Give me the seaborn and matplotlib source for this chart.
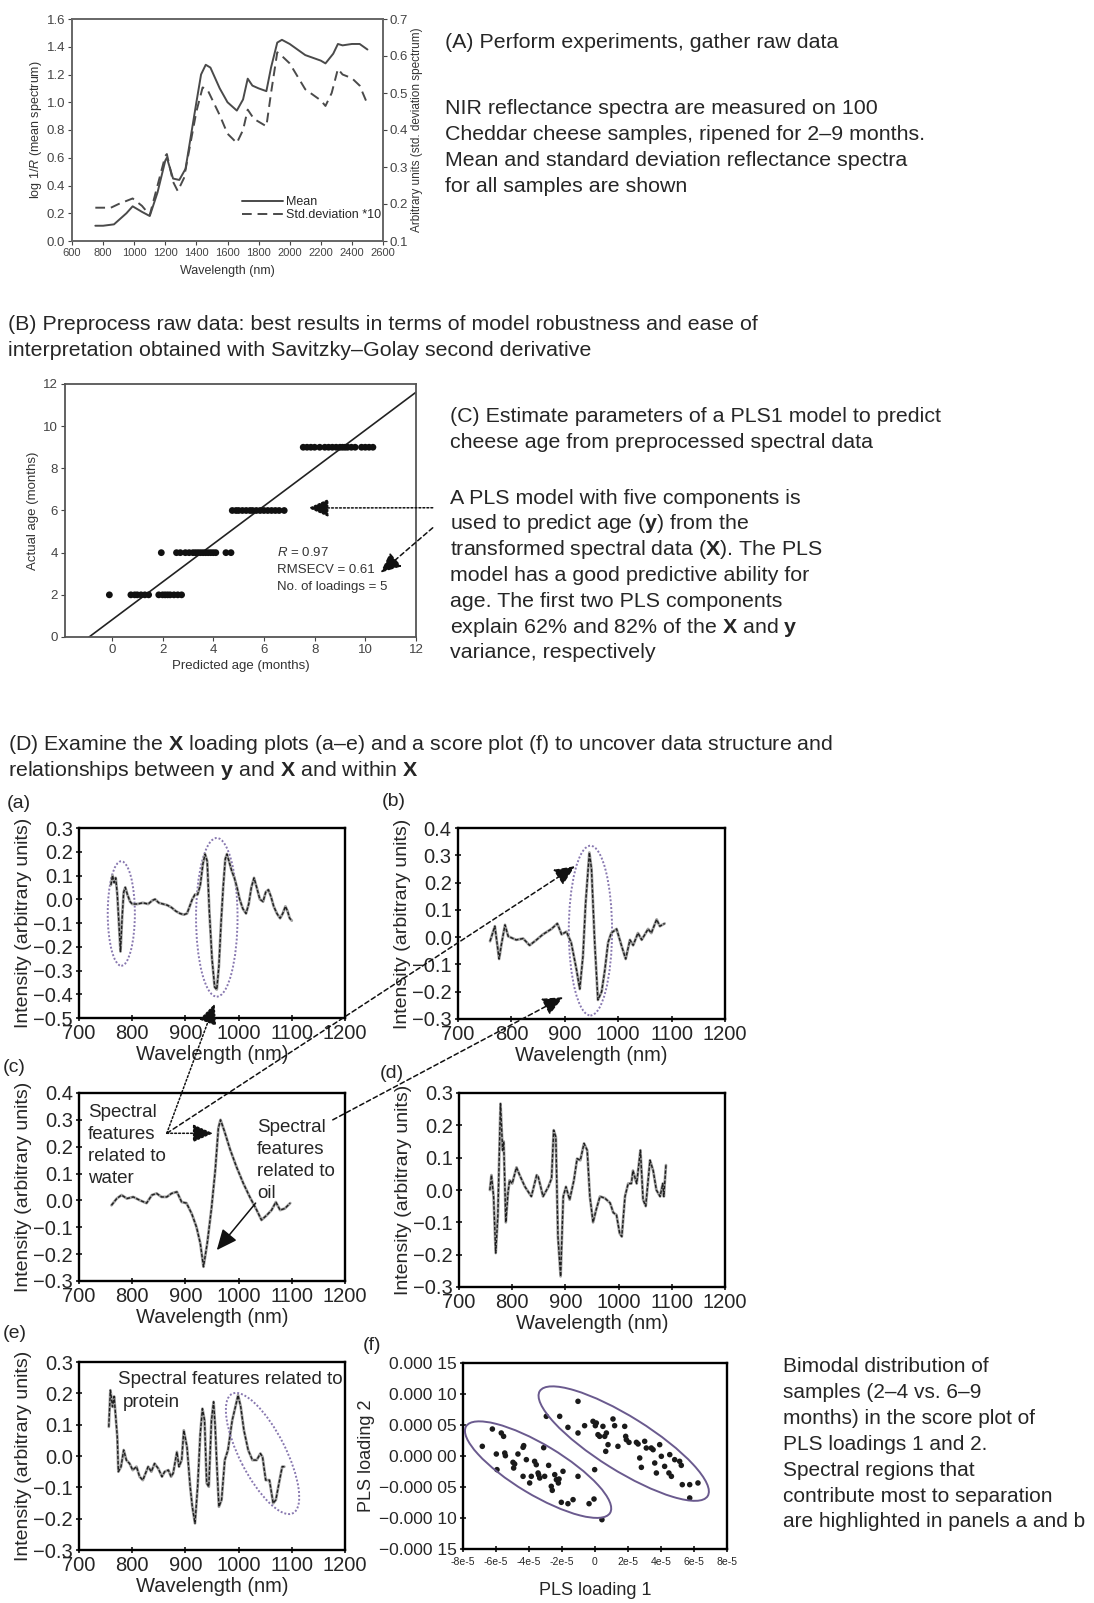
import numpy as np
import pandas as pd
import matplotlib
matplotlib.use("Agg")
import matplotlib.pyplot as plt
import seaborn as sns
from matplotlib.patches import Ellipse, ConnectionPatch
from matplotlib.transforms import IdentityTransform

# -----------------------------
# Data
# -----------------------------
# (A) mean spectrum (left axis) and std. deviation * 10 (right axis)
wl_mean = [750, 800, 870, 950, 990, 1050, 1100, 1150, 1200, 1210, 1250, 1290, 1330, 1400, 1430, 1460,
           1490, 1550, 1600, 1660, 1700, 1730, 1760, 1800, 1850, 1880, 1920, 1950, 2000, 2100, 2150,
           2200, 2230, 2280, 2310, 2340, 2400, 2450, 2500]
mean_spec = [0.11, 0.11, 0.12, 0.20, 0.25, 0.21, 0.18, 0.35, 0.58, 0.60, 0.45, 0.44, 0.52, 1.00, 1.20,
             1.27, 1.25, 1.10, 1.00, 0.94, 1.02, 1.17, 1.12, 1.10, 1.08, 1.25, 1.43, 1.45, 1.42, 1.34,
             1.32, 1.30, 1.28, 1.35, 1.42, 1.41, 1.42, 1.42, 1.38]
wl_std = [750, 850, 900, 990, 1050, 1100, 1150, 1200, 1210, 1250, 1280, 1320, 1400, 1440, 1470, 1550,
          1600, 1660, 1700, 1730, 1770, 1850, 1880, 1920, 1950, 2000, 2100, 2150, 2200, 2230, 2270,
          2310, 2340, 2400, 2450, 2500]
std_spec = [0.19, 0.19, 0.20, 0.215, 0.195, 0.17, 0.25, 0.33, 0.335, 0.26, 0.235, 0.27, 0.45, 0.515,
            0.51, 0.44, 0.39, 0.365, 0.40, 0.455, 0.43, 0.41, 0.50, 0.61, 0.60, 0.58, 0.51, 0.495,
            0.48, 0.465, 0.50, 0.565, 0.55, 0.54, 0.52, 0.47]

# (C) predicted vs actual age
pred_age2 = [-0.1, 0.75, 0.9, 1.0, 1.15, 1.3, 1.45, 1.85, 2.0, 2.1, 2.2, 2.3, 2.45, 2.6, 2.75]
pred_age4 = [1.95, 2.55, 2.7, 2.9, 3.05, 3.2, 3.3, 3.4, 3.5, 3.6, 3.7, 3.8, 3.9, 4.0, 4.1, 4.5, 4.7]
pred_age6 = [4.75, 4.9, 5.0, 5.15, 5.3, 5.45, 5.55, 5.7, 5.85, 6.0, 6.15, 6.3, 6.45, 6.6, 6.8]
pred_age9 = [7.55, 7.7, 7.85, 8.0, 8.2, 8.4, 8.55, 8.7, 8.85, 9.0, 9.1, 9.2, 9.3, 9.45, 9.6, 9.85,
             10.0, 10.15, 10.3]
actual_ages = [2, 4, 6, 9]
fit_slope, fit_intercept = 0.9, 0.81
fit_range = [-0.9, 12.0]

# (D a-e) X loadings
wl_a = [760, 763, 766, 769, 772, 775, 778, 781, 784, 787, 791, 796, 800, 810, 820, 830, 838, 843, 850,
        858, 866, 874, 882, 890, 897, 903, 908, 913, 918, 923, 928, 933, 937, 941, 945, 950, 955, 959,
        963, 967, 971, 975, 978, 982, 987, 992, 997, 1002, 1008, 1014, 1019, 1024, 1029, 1034, 1040,
        1046, 1051, 1056, 1061, 1066, 1072, 1078, 1083, 1088, 1092, 1096, 1100]
load_a = [0.06, 0.10, 0.07, 0.09, 0.02, -0.10, -0.22, -0.08, 0.03, 0.05, 0.02, -0.01, -0.02, -0.02,
          -0.015, -0.02, -0.005, 0.0, -0.015, -0.02, -0.025, -0.035, -0.05, -0.06, -0.065, -0.06,
          -0.03, 0.0, 0.02, 0.02, 0.06, 0.15, 0.19, 0.16, -0.05, -0.25, -0.37, -0.38, -0.28, -0.10,
          0.05, 0.17, 0.19, 0.16, 0.12, 0.09, 0.05, 0.0, -0.04, -0.06, -0.02, 0.05, 0.09, 0.05, 0.0,
          -0.01, 0.03, 0.04, 0.01, -0.03, -0.06, -0.08, -0.06, -0.03, -0.05, -0.08, -0.09]
wl_b = [760, 769, 777, 781, 788, 794, 809, 822, 834, 847, 859, 875, 886, 894, 903, 912, 922, 928, 934,
        939, 946, 950, 956, 962, 969, 975, 981, 987, 997, 1006, 1014, 1022, 1028, 1037, 1044, 1056,
        1062, 1072, 1078, 1087]
load_b = [-0.015, 0.04, -0.08, -0.03, 0.045, 0.003, -0.01, -0.005, -0.03, -0.01, 0.01, 0.03, 0.05,
          0.01, 0.02, -0.02, -0.12, -0.19, -0.07, 0.125, 0.31, 0.25, -0.02, -0.23, -0.20, -0.12,
          -0.02, 0.015, 0.03, -0.03, -0.08, -0.01, -0.03, 0.015, -0.01, 0.03, 0.015, 0.065, 0.04, 0.05]
wl_c = [761, 771, 780, 790, 802, 815, 827, 837, 846, 855, 865, 874, 884, 893, 902, 912, 921, 928, 934,
        941, 949, 956, 962, 966, 973, 984, 996, 1009, 1021, 1034, 1043, 1053, 1062, 1070, 1078, 1087,
        1097]
load_c = [-0.018, 0.007, 0.02, 0.007, 0.013, 0.0, -0.01, 0.02, 0.026, 0.013, 0.013, 0.026, 0.032,
          -0.006, -0.01, -0.05, -0.10, -0.16, -0.247, -0.16, -0.03, 0.11, 0.27, 0.30, 0.26, 0.19,
          0.125, 0.063, 0.013, -0.036, -0.073, -0.055, -0.036, -0.006, -0.036, -0.03, -0.01]
wl_d = [758, 761, 765, 769, 773, 778, 782, 784, 788, 792, 795, 800, 808, 814, 824, 836, 846, 849, 858,
        868, 874, 878, 882, 886, 891, 896, 901, 908, 916, 922, 928, 935, 941, 946, 952, 958, 965, 974,
        984, 990, 996, 1002, 1006, 1012, 1018, 1024, 1027, 1034, 1041, 1046, 1051, 1059, 1065, 1071,
        1078, 1083, 1085, 1089]
load_d = [0.0, 0.046, -0.02, -0.195, -0.08, 0.267, 0.123, 0.15, -0.10, -0.01, 0.03, 0.02, 0.07, 0.046,
          0.01, -0.02, 0.046, 0.04, -0.02, 0.01, 0.036, 0.185, 0.164, -0.144, -0.267, -0.02, 0.01,
          -0.03, 0.03, 0.097, 0.092, 0.144, 0.123, -0.02, -0.10, -0.06, -0.02, -0.025, -0.04, -0.07,
          -0.077, -0.134, -0.144, -0.02, 0.02, 0.02, 0.06, 0.02, 0.123, -0.03, -0.05, 0.092, 0.06,
          0.0, -0.02, 0.02, -0.02, 0.077]
wl_e = [756, 759, 763, 766, 772, 774, 779, 784, 789, 795, 801, 808, 814, 820, 830, 836, 842, 849, 856,
        861, 868, 873, 877, 884, 888, 893, 897, 903, 909, 913, 918, 923, 928, 932, 936, 940, 944, 949,
        953, 956, 959, 963, 968, 974, 980, 988, 994, 999, 1004, 1010, 1018, 1026, 1034, 1041, 1045,
        1051, 1058, 1065, 1070, 1077, 1082, 1086]
load_e = [0.093, 0.21, 0.157, 0.19, 0.061, -0.05, -0.034, 0.019, -0.013, -0.024, -0.045, -0.034,
          -0.066, -0.077, -0.034, -0.05, -0.024, -0.04, -0.066, -0.05, -0.045, -0.066, -0.055, 0.013,
          -0.034, -0.013, 0.082, 0.029, -0.098, -0.162, -0.215, -0.098, 0.072, 0.151, 0.114, -0.087,
          -0.098, 0.114, 0.173, 0.093, -0.024, -0.162, -0.140, -0.013, 0.019, 0.114, 0.157, 0.194,
          0.157, 0.082, 0.019, -0.013, -0.013, 0.008, -0.003, -0.077, -0.077, -0.151, -0.140, -0.077,
          -0.034, -0.034]

# (f) PLS scores, in units of 1e-5
score_unit = 1e-5
young_pls1 = [-6.83, -6.22, -5.98, -5.94, -5.68, -5.54, -5.47, -5.43, -4.97, -4.93, -4.87, -4.67, -4.36,
              -4.32, -4.36, -4.16, -3.96, -3.86, -3.66, -3.56, -3.45, -3.41, -3.35, -3.11, -3.05, -2.81,
              -2.65, -2.59, -2.44, -2.34, -2.22, -2.18, -2.04, -1.94, -1.64, -1.33, -1.03, -0.36, -0.06,
              -0.02, 0.42]
young_pls2 = [1.56, 4.35, 0.32, -2.2, 3.71, 3.17, 0.48, 0.05, -1.02, -1.94, -1.29, 0.32, 1.40, 1.67,
              -3.28, -0.59, -4.35, -3.28, -0.86, -1.40, -2.74, -3.06, -3.55, 1.34, -3.28, -1.51, -4.89,
              -5.54, -3.01, -3.82, -4.35, -3.71, -7.47, -2.47, -7.69, -7.04, -3.28, -7.69, -6.94, -2.20,
              -10.27]
old_pls1 = [-2.95, -2.14, -1.64, -1.03, -1.03, -0.63, -0.12, 0.02, 0.08, 0.18, 0.28, 0.48, 0.59, 0.65,
            0.69, 0.79, 1.09, 1.19, 1.39, 1.80, 1.86, 1.90, 2.06, 2.51, 2.61, 2.71, 2.81, 3.01, 3.11,
            3.41, 3.52, 3.62, 3.72, 3.92, 4.02, 4.22, 4.48, 4.53, 4.63, 4.83, 5.13, 5.23, 5.29, 5.74,
            6.24, 5.74]
old_pls2 = [6.40, 6.40, 4.62, 8.82, 3.71, 4.89, 5.59, 4.89, 5.32, 3.44, 3.17, 4.78, 3.17, 0.75, 3.71,
            1.83, 5.97, 4.89, 1.56, 4.78, 3.17, 2.63, 2.20, 2.20, 1.94, -0.32, -1.83, 2.37, 1.29, 1.29,
            1.02, -1.13, -2.74, 1.83, -0.05, -1.67, -2.74, 0.22, -3.28, -0.59, -0.86, -1.51, -4.62,
            -4.62, -4.35, -6.77]

# tick labels
wl_ticks = [700, 800, 900, 1000, 1100, 1200]
f_xticks = [-8, -6, -4, -2, 0, 2, 4, 6, 8]
f_xtick_labels = ["-8e-5", "-6e-5", "-4e-5", "-2e-5", "0", "2e-5", "4e-5", "6e-5", "8e-5"]
f_yticks = [-15, -10, -5, 0, 5, 10, 15]
f_ytick_labels = ["\u22120.000 15", "\u22120.000 10", "\u22120.000 05", "0.000 00",
                  "0.000 05", "0.000 10", "0.000 15"]

# texts
A_title = "(A) Perform experiments, gather raw data"
A_body = ["NIR reflectance spectra are measured on 100",
          "Cheddar cheese samples, ripened for 2\u20139 months.",
          "Mean and standard deviation reflectance spectra",
          "for all samples are shown"]
B_lines = ["(B) Preprocess raw data: best results in terms of model robustness and ease of",
           "interpretation obtained with Savitzky\u2013Golay second derivative"]
C_title = ["(C) Estimate parameters of a PLS1 model to predict",
           "cheese age from preprocessed spectral data"]
C_body = ["A PLS model with five components is",
          r"used to predict age ($\mathbf{y}$) from the",
          r"transformed spectral data ($\mathbf{X}$). The PLS",
          "model has a good predictive ability for",
          "age. The first two PLS components",
          r"explain 62% and 82% of the $\mathbf{X}$ and $\mathbf{y}$",
          "variance, respectively"]
D_lines = [r"(D) Examine the $\mathbf{X}$ loading plots (a" + "\u2013"
           + "e) and a score plot (f) to uncover data structure and",
           r"relationships between $\mathbf{y}$ and $\mathbf{X}$ and within $\mathbf{X}$"]
F_body = ["Bimodal distribution of", "samples (2\u20134 vs. 6\u20139",
          "months) in the score plot of", "PLS loadings 1 and 2.",
          "Spectral regions that", "contribute most to separation",
          "are highlighted in panels a and b"]
water_lines = ["Spectral", "features", "related to", "water"]
oil_lines = ["Spectral", "features", "related to", "oil"]
C_stats = [r"$\mathit{R}$ = 0.97", "RMSECV = 0.61", "No. of loadings = 5"]

# -----------------------------
# Style
# -----------------------------
sns.set_style("ticks")
plt.rcParams["font.family"] = ["Liberation Sans", "DejaVu Sans"]
plt.rcParams["mathtext.fontset"] = "custom"
plt.rcParams["mathtext.rm"] = "Liberation Sans"
plt.rcParams["mathtext.it"] = "Liberation Sans:italic"
plt.rcParams["mathtext.bf"] = "Liberation Sans:bold"

INK = "#262626"
GREY = "#4a4a4a"
PURPLE = "#8878b0"
BODY = 15.4

W, H = 1094, 1603
fig = plt.figure(figsize=(W / 100, H / 100), dpi=100)


def box(l, t, r, b):
    return [l / W, 1 - b / H, (r - l) / W, (b - t) / H]


def put(x, y, s, size=BODY, **kw):
    fig.text(x / W, 1 - y / H, s, fontsize=size, color=INK, ha="left", va="center", **kw)


def minus(v, fmt):
    s = fmt.format(abs(v))
    return ("\u2212" + s) if v < -1e-12 else s


# -----------------------------
# (A) raw spectra
# -----------------------------
axA = fig.add_axes(box(72, 19, 383, 241))
axA2 = axA.twinx()
sns.lineplot(x=wl_mean, y=mean_spec, ax=axA, color=GREY, lw=1.4)
sns.lineplot(x=wl_std, y=std_spec, ax=axA2, color=GREY, lw=1.4, linestyle=(0, (5, 3)))
axA.set_xlim(600, 2600)
axA.set_ylim(0, 1.6)
axA2.set_ylim(0.1, 0.7)
axA.set_xticks(np.arange(600, 2601, 200))
yt = np.round(np.arange(0, 1.61, 0.2), 1)
axA.set_yticks(yt, [f"{v:.1f}" for v in yt])
yt2 = np.round(np.arange(0.1, 0.71, 0.1), 1)
axA2.set_yticks(yt2, [f"{v:.1f}" for v in yt2])
axA.tick_params(axis="x", labelsize=8, length=3, pad=2, colors="#444")
axA.tick_params(axis="y", labelsize=9.5, length=3, pad=2, colors="#444")
axA2.tick_params(axis="y", labelsize=9.5, length=3, pad=2, colors="#444")
for ax in (axA, axA2):
    for s in ax.spines.values():
        s.set_color("#666")
        s.set_linewidth(1.2)
axA.set_xlabel("Wavelength (nm)", fontsize=9, color="#333", labelpad=5)
axA.set_ylabel(r"log 1/$\mathit{R}$ (mean spectrum)", fontsize=9, color="#333", labelpad=2)
axA2.set_ylabel("Arbitrary units (std. deviation spectrum)", fontsize=8.5, color="#333", labelpad=2)
axA2.legend([axA.get_lines()[0], axA2.get_lines()[0]], ["Mean", "Std.deviation *10"],
            loc="lower right", bbox_to_anchor=(0.995, 0.09), frameon=False, fontsize=9,
            handlelength=3.3, handletextpad=0.25, labelspacing=0.05, borderaxespad=0, borderpad=0)

# -----------------------------
# (C) predicted vs actual
# -----------------------------
dfC = pd.DataFrame({
    "predicted": pred_age2 + pred_age4 + pred_age6 + pred_age9,
    "actual": [actual_ages[0]] * len(pred_age2) + [actual_ages[1]] * len(pred_age4)
              + [actual_ages[2]] * len(pred_age6) + [actual_ages[3]] * len(pred_age9),
})
axC = fig.add_axes(box(65, 384, 416, 637))
fit_y = [fit_slope * x + fit_intercept for x in fit_range]
sns.lineplot(x=fit_range, y=fit_y, ax=axC, color="#222", lw=1.2)
sns.scatterplot(data=dfC, x="predicted", y="actual", ax=axC, color="#111", s=24,
                edgecolor="none", legend=False, zorder=3)
axC.set_xlim(-1.85, 12)
axC.set_ylim(0, 12)
axC.set_xticks(range(0, 13, 2))
axC.set_yticks(range(0, 13, 2))
axC.tick_params(labelsize=9.5, length=3, pad=2, colors="#444")
for s in axC.spines.values():
    s.set_color("#555")
    s.set_linewidth(1.3)
axC.set_xlabel("Predicted age (months)", fontsize=9.5, color="#333", labelpad=3)
axC.set_ylabel("Actual age (months)", fontsize=9.5, color="#333", labelpad=3)
for i, s in enumerate(C_stats):
    axC.text(6.5, 4.0 - i * 0.82, s, fontsize=9.5, color="#333", va="center")

# -----------------------------
# (D) loading panels
# -----------------------------
def loading_panel(rect, wl, vals, ylo, yhi):
    ax = fig.add_axes(box(*rect))
    ax.set_facecolor("none")
    sns.lineplot(x=wl, y=vals, ax=ax, color="#a0a0a0", lw=2.0, sort=False)
    sns.lineplot(x=wl, y=vals, ax=ax, color="#1e1e1e", lw=1.0, sort=False, linestyle=(0, (2.5, 1.2)))
    ax.set_xlim(700, 1200)
    ax.set_ylim(ylo, yhi)
    ax.set_xticks(wl_ticks)
    yt = np.round(np.arange(ylo, yhi + 1e-9, 0.1), 1)
    ax.set_yticks(yt, [minus(v, "{:.1f}") for v in yt])
    ax.tick_params(labelsize=14.5, direction="inout", length=5, width=1.3, pad=2, colors=INK)
    for s in ax.spines.values():
        s.set_color("black")
        s.set_linewidth(1.7)
    ax.set_xlabel("Wavelength (nm)", fontsize=14.5, color=INK, labelpad=1)
    ax.set_ylabel("Intensity (arbitrary units)", fontsize=14, color=INK, labelpad=1)
    return ax


axa = loading_panel((79, 828, 345, 1018), wl_a, load_a, -0.5, 0.3)
axb = loading_panel((458, 828, 725, 1019), wl_b, load_b, -0.3, 0.4)
axc = loading_panel((79, 1093, 345, 1281), wl_c, load_c, -0.3, 0.4)
axd = loading_panel((459, 1093, 725, 1287), wl_d, load_d, -0.3, 0.3)
axe = loading_panel((79, 1362, 345, 1550), wl_e, load_e, -0.3, 0.3)

# highlight ellipses (a, b)
for ax, c, w, h in [(axa, (779.5, -0.06), 51, 0.44), (axa, (959, -0.076), 78, 0.668),
                    (axb, (948, 0.024), 81, 0.622)]:
    ax.add_patch(Ellipse(c, w, h, fill=False, ec=PURPLE, lw=1.4, ls=(0, (1, 1)), clip_on=False))

# panel texts
for i, s in enumerate(water_lines):
    axc.text(717, 0.326 - i * 0.081, s, fontsize=13.5, color=INK, va="center")
for i, s in enumerate(oil_lines):
    axc.text(1035, 0.27 - i * 0.081, s, fontsize=13.5, color=INK, va="center")
axe.text(773, 0.243, "Spectral features related to", fontsize=13.5, color=INK, va="center")
axe.text(783, 0.172, "protein", fontsize=13.5, color=INK, va="center")

# -----------------------------
# (f) score plot
# -----------------------------
dfF = pd.DataFrame({
    "pls1": [v * score_unit for v in young_pls1 + old_pls1],
    "pls2": [v * score_unit for v in young_pls2 + old_pls2],
})
axf = fig.add_axes(box(463, 1363, 727, 1549))
sns.scatterplot(data=dfF, x="pls1", y="pls2", ax=axf, color="#1a1a1a", s=16, edgecolor="none",
                legend=False)
axf.set_xlim(-8 * score_unit, 8 * score_unit)
axf.set_ylim(-15 * score_unit, 15 * score_unit)
axf.set_xticks([v * score_unit for v in f_xticks], f_xtick_labels)
axf.set_yticks([v * score_unit for v in f_yticks], f_ytick_labels)
axf.tick_params(axis="x", labelsize=7.5, direction="inout", length=5, width=1.3, pad=3, colors=INK)
axf.tick_params(axis="y", labelsize=12.5, direction="inout", length=5, width=1.3, pad=2, colors=INK)
for s in axf.spines.values():
    s.set_color("black")
    s.set_linewidth(1.7)
axf.set_xlabel("PLS loading 1", fontsize=13, color=INK, labelpad=11)
axf.set_ylabel("PLS loading 2", fontsize=13, color=INK, labelpad=3)


def tilted_ellipse(ax, center, a_px, b_px, angle, **kw):
    cx, cy = ax.transData.transform(center)
    fig.add_artist(Ellipse((cx, cy), 2 * a_px, 2 * b_px, angle=angle, transform=IdentityTransform(),
                           fill=False, **kw))


tilted_ellipse(axe, (1045, 0.008), 67, 23, -63, ec=PURPLE, lw=1.4, ls=(0, (1, 1)))
tilted_ellipse(axf, (-3.45 * score_unit, -2.2 * score_unit), 84, 25, -31, ec="#6a5a8e", lw=1.4)
tilted_ellipse(axf, (1.74 * score_unit, 2.0 * score_unit), 99, 27, -32, ec="#6a5a8e", lw=1.4)

# -----------------------------
# arrows
# -----------------------------
DOT = (0, (1.2, 1.4))
DASH = (0, (3, 2))


def arrow(tail, tail_ax, head, head_ax, ls):
    fig.add_artist(ConnectionPatch(
        xyA=tail, coordsA=tail_ax.transData, xyB=head, coordsB=head_ax.transData,
        arrowstyle="-|>,head_length=0.9,head_width=0.4", mutation_scale=14,
        shrinkA=0, shrinkB=0, lw=1.1, color="#111", linestyle=ls))


arrow((12.66, 6.13), axC, (7.75, 6.12), axC, DOT)
arrow((12.66, 5.18), axC, (10.6, 3.05), axC, DASH)
arrow((865, 0.25), axc, (955, -0.44), axa, DOT)
arrow((865, 0.25), axc, (919, 0.26), axb, DASH)
arrow((865, 0.25), axc, (952, 0.25), axc, DOT)
arrow((1177, 0.30), axc, (897, -0.22), axb, DASH)
arrow((1032, -0.01), axc, (959, -0.185), axc, "-")

# -----------------------------
# free text
# -----------------------------
put(445, 43, A_title)
for i, s in enumerate(A_body):
    put(445, 108 + i * 26, s)
for i, s in enumerate(B_lines):
    put(8, 324 + i * 26, s)
for i, s in enumerate(C_title):
    put(450, 417 + i * 25.5, s)
for i, s in enumerate(C_body):
    put(450, 498 + i * 25.8, s)
for i, s in enumerate(D_lines):
    put(8, 744 + i * 26, s)
for i, s in enumerate(F_body):
    put(783, 1367 + i * 25.8, s, size=15)

for x, y, s in [(7, 803, "(a)"), (382, 802, "(b)"), (3, 1068, "(c)"), (380, 1073, "(d)"),
                (3, 1333, "(e)"), (363, 1345, "(f)")]:
    put(x, y, s, size=14)

fig.savefig("out.png", dpi=100, facecolor="white")
